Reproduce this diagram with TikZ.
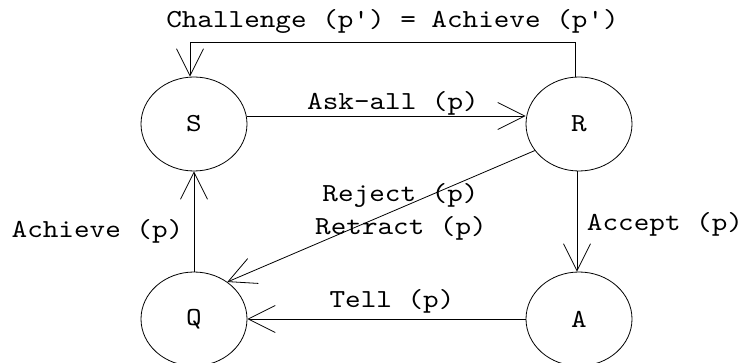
\documentclass[tikz,border=0pt]{standalone}
\usepackage{fontspec}
\newfontfamily\mono{lmmono10-regular.otf}[FakeStretch=1.143]
\usetikzlibrary{shapes.geometric,arrows.meta}
\tikzset{
  state/.style={draw, ellipse, line width=0.8pt, minimum width=106pt, minimum height=94pt, inner sep=0pt,
    font=\mono\fontsize{26}{30}\selectfont},
  lbl/.style={inner sep=0pt, anchor=base, font=\mono\fontsize{26}{30}\selectfont},
  arr/.style={line width=0.8pt, -{Straight Barb[length=27pt,width=27pt,line width=0.8pt]}}
}
\begin{document}
\begin{tikzpicture}[x=1pt,y=-1pt]
\useasboundingbox (0,0) rectangle (744,363);
% states
\node[state] (S) at (194,124) {S};
\node[state] (R) at (579,124) {R};
\node[state] (Q) at (194,319) {Q};
\node[state] (A) at (579,319) {A};
% helper for the loop over the top
\coordinate (topline) at (0,42);
% transitions
\draw[arr] ([xshift=-4pt]R.north) -- ([xshift=-4pt]R.north |- topline) -| ([xshift=-4pt]S.north);
\draw[arr] ([yshift=8pt]S.east) -- ([yshift=8pt]R.west);
\draw[arr] (Q.north) -- (S.south);
\draw[arr] ([xshift=-2pt]R.south) -- ([xshift=-2pt]A.north);
\draw[arr] (A.west) -- (Q.east);
\draw[arr] (R.211) -- (Q.48);
% labels
\node[lbl] (lchal) at (392.5,28) {Challenge (p') = Achieve (p')};
\node[lbl] (lask) at (393,110) {Ask-all (p)};
\node[lbl] (lrej) at (400.5,202) {Reject (p)};
\node[lbl] (lret) at (401,235) {Retract (p)};
\node[lbl] (lach) at (97.5,238) {Achieve (p)};
\node[lbl] (lacc) at (665,231) {Accept (p)};
\node[lbl] (ltell) at (392,308) {Tell (p)};
\end{tikzpicture}
\end{document}
